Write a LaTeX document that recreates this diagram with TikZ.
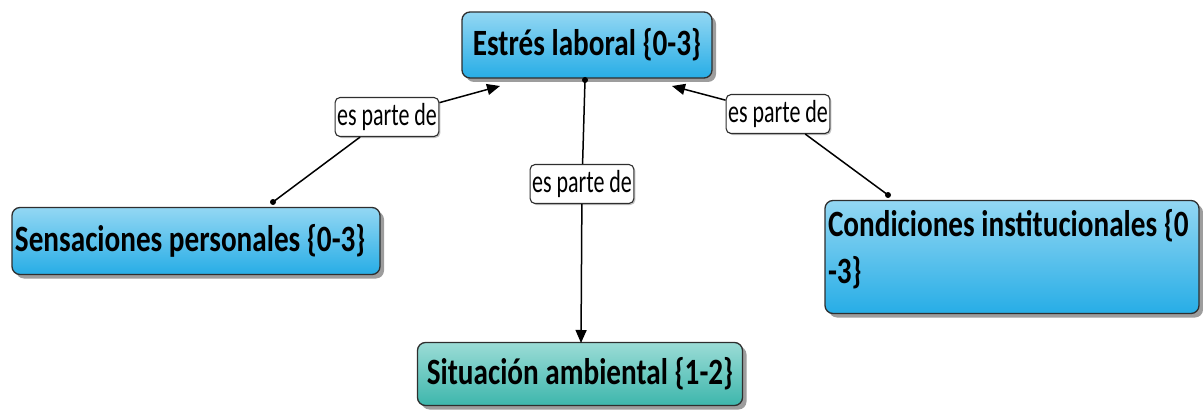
\documentclass[tikz,border=0pt]{standalone}
\usepackage{fontspec}
\setmainfont{Carlito}
\usetikzlibrary{shadows,arrows.meta}
\definecolor{bluetop}{HTML}{93D7F3}
\definecolor{bluebot}{HTML}{27ADE6}
\definecolor{greentop}{HTML}{9BDCD6}
\definecolor{greenbot}{HTML}{3DB6AC}
\definecolor{edge}{HTML}{2E2E2E}
\newcommand{\tall}[1]{\scalebox{1}[1.27]{#1}}
\newcommand{\taller}[1]{\scalebox{1}[1.45]{#1}}
\tikzset{
  concept/.style={draw=edge, line width=1.3pt, rounded corners=8pt,
    drop shadow={shadow xshift=4pt, shadow yshift=-4pt, fill=black!55, opacity=0.7},
    font=\bfseries\fontsize{29.2}{47}\selectfont, inner sep=0pt},
  bluebox/.style={concept, top color=bluetop, bottom color=bluebot},
  greenbox/.style={concept, top color=greentop, bottom color=greenbot},
  linklabel/.style={draw=edge, line width=1.1pt, fill=white, rounded corners=5pt,
    font=\fontsize{22}{24}\selectfont, inner xsep=2pt, inner ysep=0pt,
    minimum height=39pt,
    drop shadow={shadow xshift=1.5pt, shadow yshift=-1.5pt, fill=black!40, opacity=0.6}},
  conn/.style={line width=1.5pt, draw=black},
  arrowconn/.style={conn, -{Triangle[length=13pt,width=11pt]}},
  dotend/.style={fill=black, circle, inner sep=0pt, minimum size=6pt}
}
\begin{document}
\begin{tikzpicture}[x=1pt,y=-1pt]
\useasboundingbox (0,0) rectangle (1203,412);
\node[bluebox, minimum width=250pt, minimum height=66pt] (est) at (587,45) {\tall{Estrés laboral \{0-3\}}};
\node[bluebox, minimum width=368pt, minimum height=67pt] (sen) at (196,241) {\begin{minipage}{362pt}\tall{Sensaciones personales \{0-3\}}\end{minipage}};
\node[bluebox, minimum width=374pt, minimum height=113pt] (con) at (1012,257) {\begin{minipage}[c][113pt][t]{368pt}\vspace*{9pt}\tall{Condiciones institucionales \{0}\par\tall{-3\}}\end{minipage}};
\node[greenbox, minimum width=325pt, minimum height=63pt] (sit) at (580,374) {\tall{Situación ambiental \{1-2\}}};

\node[linklabel] (l1) at (387,117) {\taller{es parte de}};
\node[linklabel] (l2) at (582,184) {\taller{es parte de}};
\node[linklabel] (l3) at (778,114) {\taller{es parte de}};

\coordinate (s1) at (273,202);
\coordinate (e1) at (500,86);
\coordinate (e2) at (585,80);
\coordinate (t2) at (581,343);
\coordinate (e3) at (672,86);
\coordinate (c3) at (888,195);

\draw[conn] (s1) -- (l1);
\draw[arrowconn] (l1) -- (e1);
\node[dotend] (d1) at (s1) {};
\draw[conn] (e2) -- (l2);
\draw[arrowconn] (l2) -- (t2);
\node[dotend] (d2) at (e2) {};
\draw[conn] (c3) -- (l3);
\draw[arrowconn] (l3) -- (e3);
\node[dotend] (d3) at (c3) {};
\end{tikzpicture}
\end{document}
